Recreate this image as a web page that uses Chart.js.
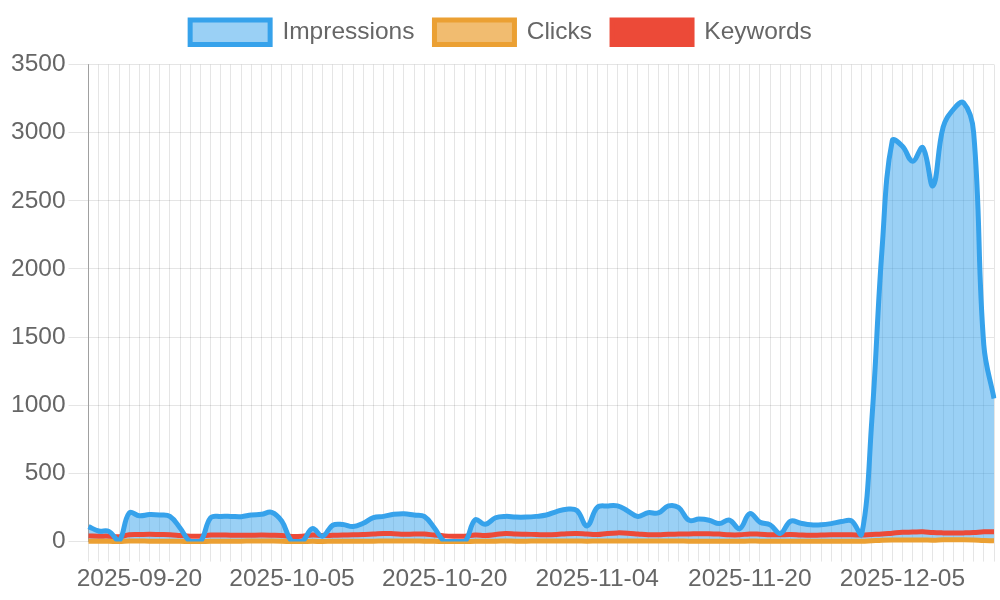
<!DOCTYPE html>
<html>
<head>
<meta charset="utf-8">
<script src="https://cdn.jsdelivr.net/npm/chart.js@4/dist/chart.umd.min.js"></script>
<style>
html,body{margin:0;padding:0;background:#fff;}
#wrap{width:1000px;height:600px;position:relative;}
</style>
</head>
<body>
<div id="wrap"><canvas id="c"></canvas></div>
<script>
const dates = [
 '2025-09-15','2025-09-16','2025-09-17','2025-09-18','2025-09-19','2025-09-20','2025-09-21','2025-09-22','2025-09-23','2025-09-24',
 '2025-09-25','2025-09-26','2025-09-27','2025-09-28','2025-09-29','2025-09-30','2025-10-01','2025-10-02','2025-10-03','2025-10-04',
 '2025-10-05','2025-10-06','2025-10-07','2025-10-08','2025-10-09','2025-10-10','2025-10-11','2025-10-12','2025-10-13','2025-10-14',
 '2025-10-15','2025-10-16','2025-10-17','2025-10-18','2025-10-19','2025-10-20','2025-10-21','2025-10-22','2025-10-23','2025-10-24',
 '2025-10-25','2025-10-26','2025-10-27','2025-10-28','2025-10-29','2025-10-30','2025-10-31','2025-11-01','2025-11-02','2025-11-03',
 '2025-11-04','2025-11-05','2025-11-06','2025-11-07','2025-11-08','2025-11-09','2025-11-10','2025-11-11','2025-11-12','2025-11-13',
 '2025-11-14','2025-11-16','2025-11-17','2025-11-18','2025-11-19','2025-11-20','2025-11-21','2025-11-22','2025-11-23','2025-11-24',
 '2025-11-25','2025-11-26','2025-11-27','2025-11-28','2025-11-29','2025-11-30','2025-12-01','2025-12-02','2025-12-03','2025-12-04',
 '2025-12-05','2025-12-06','2025-12-07','2025-12-08','2025-12-09','2025-12-10','2025-12-11','2025-12-12','2025-12-13','2025-12-14'
];
const shownDates = ['2025-09-20','2025-10-05','2025-10-20','2025-11-04','2025-11-20','2025-12-05'];

const impressions = [
 110,78,75,5,210,190,198,195,185,100,
 0,0,175,185,185,183,195,200,215,150,
 0,0,95,40,120,125,110,135,175,185,
 200,205,195,185,100,0,0,0,160,127,
 175,185,180,180,185,195,220,238,228,115,
 250,262,262,225,184,212,210,262,250,157,
 165,157,132,157,95,205,142,123,60,150,
 135,123,123,132,147,152,55,900,2150,2940,
 2900,2790,2890,2610,3040,3170,3220,3000,1440,1050
];
const clicks = [
 3,3,2,0,4,4,3,3,3,2,
 0,0,3,3,3,3,4,4,4,3,
 0,0,2,1,3,3,2,3,3,4,
 4,4,4,3,2,0,0,0,3,3,
 3,4,3,3,4,4,4,5,5,3,
 5,5,5,4,4,4,4,5,5,3,
 3,3,3,3,2,4,3,3,2,3,
 3,3,3,3,3,3,2,6,10,12,
 12,11,12,10,13,13,14,12,8,6
];
const keywords = [
 42,40,40,35,50,52,54,52,50,45,
 40,40,48,48,47,46,47,48,47,45,
 38,40,48,45,46,48,50,52,55,60,
 58,54,55,55,48,42,40,40,48,45,
 52,60,56,54,52,50,52,58,60,55,
 52,60,64,62,56,50,50,54,55,56,
 58,58,55,50,50,56,54,50,50,52,
 48,46,48,50,50,50,48,52,56,62,
 68,70,72,66,64,64,64,66,72,72
];
const yTicks = {min:0, max:3500, step:500};

const blue = 'rgb(54,162,235)', blueFill = 'rgba(54,162,235,0.5)';
const orange = 'rgb(235,160,51)', orangeFill = 'rgba(235,160,51,0.7)';
const red = 'rgb(236,74,56)';

Chart.defaults.font.family = "'Liberation Sans', Arial, Helvetica, sans-serif";
Chart.defaults.font.size = 24.5;
Chart.defaults.color = '#666';

const legendGap = {
  id: 'legendGap',
  beforeInit(chart) {
    const origFit = chart.legend.fit;
    chart.legend.fit = function() { origFit.bind(this)(); this.height += 10; };
  }
};

new Chart(document.getElementById('c'), {
  type: 'line',
  data: {
    labels: dates,
    datasets: [
      {label:'Impressions', data: impressions, borderColor: blue, backgroundColor: blueFill, borderWidth: 5, fill: 'origin', tension: 0.4, pointRadius: 0},
      {label:'Clicks', data: clicks, borderColor: orange, backgroundColor: orangeFill, borderWidth: 5, fill: 'origin', tension: 0.4, pointRadius: 0, clip: 4},
      {label:'Keywords', data: keywords, borderColor: red, backgroundColor: red, borderWidth: 5, fill: false, tension: 0.4, pointRadius: 0}
    ]
  },
  plugins: [legendGap],
  options: {
    responsive: true,
    maintainAspectRatio: false,
    animation: false,
    layout: {padding: {left: 8, right: 6, top: 0, bottom: 3}},
    plugins: {
      filler: {drawTime: 'beforeDatasetsDraw'},
      legend: {position: 'top', labels: {boxWidth: 80, padding: 20}},
      tooltip: {enabled: false}
    },
    scales: {
      x: {
        grid: {color: 'rgba(0,0,0,0.1)', tickLength: 20},
        border: {color: 'rgba(0,0,0,0.1)'},
        ticks: {
          autoSkip: false, maxRotation: 0, minRotation: 0, padding: 3,
          callback: function(v, i) { const l = this.getLabelForValue(v); return shownDates.includes(l) ? l : ''; }
        }
      },
      y: {
        min: yTicks.min, max: yTicks.max,
        grid: {color: 'rgba(0,0,0,0.1)', tickLength: 20},
        border: {color: 'rgba(0,0,0,0.3)'},
        ticks: {stepSize: yTicks.step, padding: 3, callback: v => String(v)}
      }
    }
  }
});
</script>
</body>
</html>
